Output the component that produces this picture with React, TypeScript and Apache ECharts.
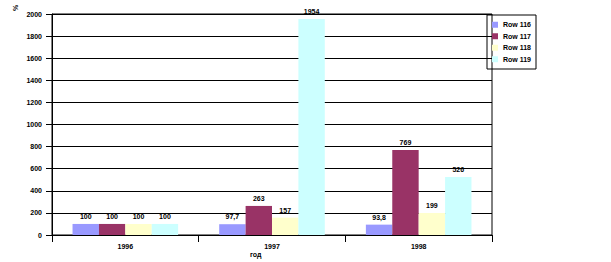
import React, { useEffect, useRef } from "react";
import * as echarts from "echarts";

const categories = ["1996", "1997", "1998"];
const seriesNames = ["Row 116", "Row 117", "Row 118", "Row 119"];
const row116 = [100, 97.7, 93.8];
const row117 = [100, 263, 769];
const row118 = [100, 157, 199];
const row119 = [100, 1954, 526];
const colors = ["#9999FF", "#993366", "#FFFFCC", "#CCFFFF"];

const font = "Liberation Sans";

export default function App() {
  const ref = useRef<HTMLDivElement>(null);
  useEffect(() => {
    const chart = echarts.init(ref.current!, null, { renderer: "svg" });
    const data = [row116, row117, row118, row119];
    chart.setOption({
      animation: false,
      backgroundColor: "#ffffff",
      textStyle: { fontFamily: font },
      grid: { left: 52, right: 119, top: 14, bottom: 27, show: true, borderColor: "#000", borderWidth: 1 },
      legend: {
        orient: "vertical",
        left: 487,
        top: 15,
        padding: [6, 5, 6, 5],
        itemWidth: 6,
        itemHeight: 6,
        itemGap: 4,
        borderColor: "#000",
        borderWidth: 1,
        icon: "rect",
        textStyle: { fontSize: 7, fontWeight: "bold", color: "#000", fontFamily: font, lineHeight: 7.5 },
        data: seriesNames,
      },
      xAxis: {
        type: "category",
        data: categories,
        axisLine: { lineStyle: { color: "#000", width: 1 } },
        axisTick: { show: true, length: 7, lineStyle: { color: "#000" } },
        axisLabel: { fontSize: 7, fontWeight: "bold", color: "#000", margin: 8 },
      },
      yAxis: {
        type: "value",
        min: 0,
        max: 2000,
        interval: 200,
        axisLine: { show: true, lineStyle: { color: "#000", width: 1 } },
        axisTick: { show: true, length: 6, lineStyle: { color: "#000" } },
        axisLabel: { fontSize: 7, fontWeight: "bold", color: "#000", margin: 10, formatter: (v: number) => String(v) },
        splitLine: { lineStyle: { color: "#000", width: 1 } },
      },
      graphic: [
        {
          type: "text",
          x: 250,
          y: 251,
          style: { text: "год", fontSize: 7, fontWeight: "bold", fill: "#000", fontFamily: font },
        },
        {
          type: "text",
          x: 12,
          y: 11,
          rotation: Math.PI / 2,
          style: { text: "%", fontSize: 7, fontWeight: "bold", fill: "#000", fontFamily: font },
        },
      ],
      series: seriesNames.map((name, i) => ({
        name,
        type: "bar",
        data: data[i],
        barGap: "0%",
        barCategoryGap: "28%",
        itemStyle: { color: colors[i] },
        label: {
          show: true,
          position: "top",
          distance: 4,
          fontSize: 7,
          fontWeight: "bold",
          color: "#000",
          fontFamily: font,
          formatter: (p: any) => String(p.value).replace(".", ","),
        },
      })),
    });
    return () => chart.dispose();
  }, []);
  return <div ref={ref} style={{ position: "fixed", left: 0, top: 0, width: 611, height: 262 }} />;
}
